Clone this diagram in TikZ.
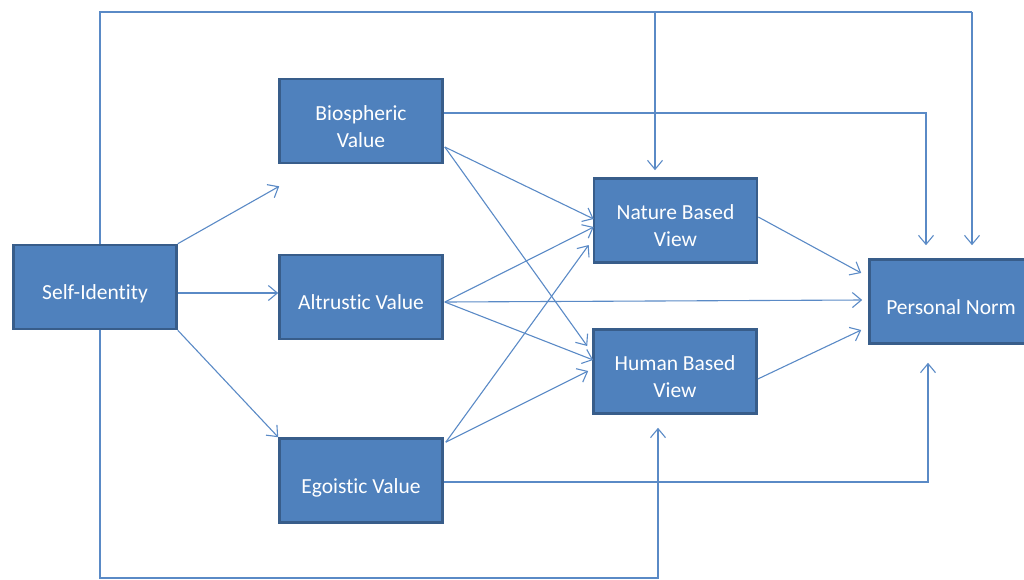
\documentclass[tikz,border=0pt]{standalone}
\usepackage{fontspec}
\setmainfont{Carlito}[Ligatures={NoCommon,TeX}]
\usetikzlibrary{arrows.meta,calc}
\definecolor{boxfill}{HTML}{4F81BD}
\definecolor{boxline}{HTML}{385D8A}
\definecolor{wire}{HTML}{5A8AC6}
% box caption, set a little below the middle of its box
\newcommand\boxtext[1]{\raisebox{-7.5pt}[\height][\depth]{\begin{tabular}{@{}c@{}}#1\end{tabular}}}

\begin{document}
\begin{tikzpicture}[x=1pt,y=-1pt,
  stage/.style={draw=boxline, line width=2.6pt, fill=boxfill, text=white,
    minimum width=163pt, minimum height=84pt, inner sep=0pt,
    font=\fontsize{21.5}{27}\selectfont},
  plain/.style={draw=wire, line width=1.1pt},
  link/.style={plain, -{Straight Barb[length=9pt,width=15pt,line width=1.1pt]}},
]
\useasboundingbox (0,0) rectangle (1024,579);

% boxes
\node[stage] (si)  at (95,287)      {\boxtext{Self-Identity}};
\node[stage] (bio) at (361,121)     {\boxtext{Biospheric\\Value}};
\node[stage] (alt) at (361,297)     {\boxtext{Altrustic Value}};
\node[stage] (ego) at (361,480.5)   {\boxtext{Egoistic Value}};
\node[stage] (nat) at (675.5,220.5) {\boxtext{Nature Based\\View}};
\node[stage] (hum) at (675,371.5)   {\boxtext{Human Based\\View}};
\node[stage] (pn)  at (951,301.5)   {\boxtext{Personal Norm}};

% loop over the top
\coordinate (tl) at (100,12);
\coordinate (tr) at (972,12);
\coordinate (tm) at (655,12);
\draw[plain] ($(si.north)+(5,0)$) -- (tl) -- (tr);
\draw[link] (tr) -- ($(pn.north)+(21,-13)$);
\draw[link] (tm) -- ($(nat.north)+(-20.5,-7)$);

% loop under the bottom
\coordinate (bl) at (100,578);
\coordinate (bm) at (658,578);
\draw[link] ($(si.south)+(5,0)$) -- (bl) -- (bm) -- ($(hum.south)+(-17,13)$);

% long elbows to Personal Norm
\coordinate (br) at (926,113);
\draw[link] ($(bio.east)+(0,-8)$) -- (br) -- ($(pn.north)+(-25,-13)$);
\coordinate (er) at (928,482);
\draw[link] ($(ego.east)+(0,1.5)$) -- (er) -- ($(pn.south)+(-23,18)$);

% Self-Identity to values
\draw[link] (si.north east) -- ($(bio.south west)+(1,22)$);
\draw[link] ($(si.east)+(0,6)$) -- ($(alt.west)+(0,-4)$);
\draw[link] (si.south east) -- (ego.north west);

% values to views
\draw[link] ($(bio.east)+(1,26)$) -- ($(nat.west)+(1,-1.5)$);
\draw[link] ($(bio.east)+(1,26)$) -- ($(hum.west)+(-5,-25.5)$);
\draw[link] ($(alt.east)+(1,5)$) -- ($(nat.west)+(1,6.5)$);
\draw[link] ($(alt.east)+(1,5)$) -- ($(pn.west)+(-6,-1.5)$);
\draw[link] ($(alt.east)+(1,5)$) -- ($(hum.west)+(1,-11.5)$);
\draw[link] ($(ego.north east)+(2,5)$) -- ($(nat.west)+(-4,24.5)$);
\draw[link] ($(ego.north east)+(2,5)$) -- ($(hum.west)+(-4,-0.5)$);

% views to Personal Norm
\draw[link] ($(nat.east)+(0,-3.5)$) -- ($(pn.west)+(-7,-28.5)$);
\draw[link] ($(hum.east)+(0,7.5)$) -- ($(pn.west)+(-7,28.5)$);
\end{tikzpicture}
\end{document}
